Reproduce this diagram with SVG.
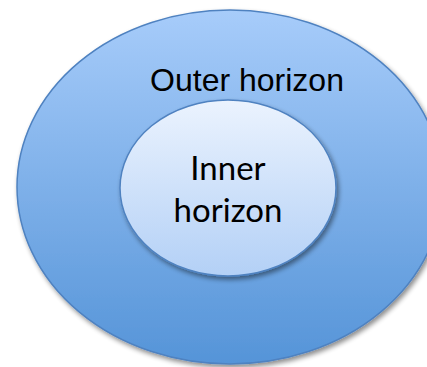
<svg xmlns="http://www.w3.org/2000/svg" width="427" height="367" viewBox="0 0 427 367">
  <defs>
    <linearGradient id="gOuter" x1="0" y1="0" x2="0" y2="1">
      <stop offset="0" stop-color="#a7ccfa"/>
      <stop offset="1" stop-color="#5594d8"/>
    </linearGradient>
    <linearGradient id="gInner" x1="0" y1="0" x2="0" y2="1">
      <stop offset="0" stop-color="#ebf3fe"/>
      <stop offset="1" stop-color="#b3d0f6"/>
    </linearGradient>
    <filter id="shadow" x="-10%" y="-10%" width="125%" height="125%">
      <feGaussianBlur in="SourceAlpha" stdDeviation="2.5"/>
      <feOffset dx="2" dy="3" result="b"/>
      <feComponentTransfer><feFuncA type="linear" slope="0.45"/></feComponentTransfer>
      <feMerge><feMergeNode/><feMergeNode in="SourceGraphic"/></feMerge>
    </filter>
  </defs>
  <style>
    .outer { fill: url(#gOuter); stroke: #4f82c0; stroke-width: 1.5; }
    .inner { fill: url(#gInner); stroke: #4f82c0; stroke-width: 1.5; }
    .t1 { font-family: "Liberation Sans", Arial, sans-serif; font-size: 32px; fill: #000; text-anchor: middle; }
    .t2 { font-family: Lato, "Open Sans", sans-serif; font-size: 33px; fill: #000; text-anchor: middle; }
  </style>
  <rect width="427" height="367" fill="#ffffff"/>
  <g id="outer-horizon">
    <ellipse class="outer" cx="230" cy="187" rx="213" ry="177" filter="url(#shadow)"/>
    <text class="t1" x="247" y="91">Outer horizon</text>
  </g>
  <g id="inner-horizon">
    <ellipse class="inner" cx="228" cy="188" rx="108" ry="88" filter="url(#shadow)"/>
    <text class="t2" x="228" y="180">Inner</text>
    <text class="t2" x="228" y="222">horizon</text>
  </g>
  <g id="connectors"/>
</svg>
